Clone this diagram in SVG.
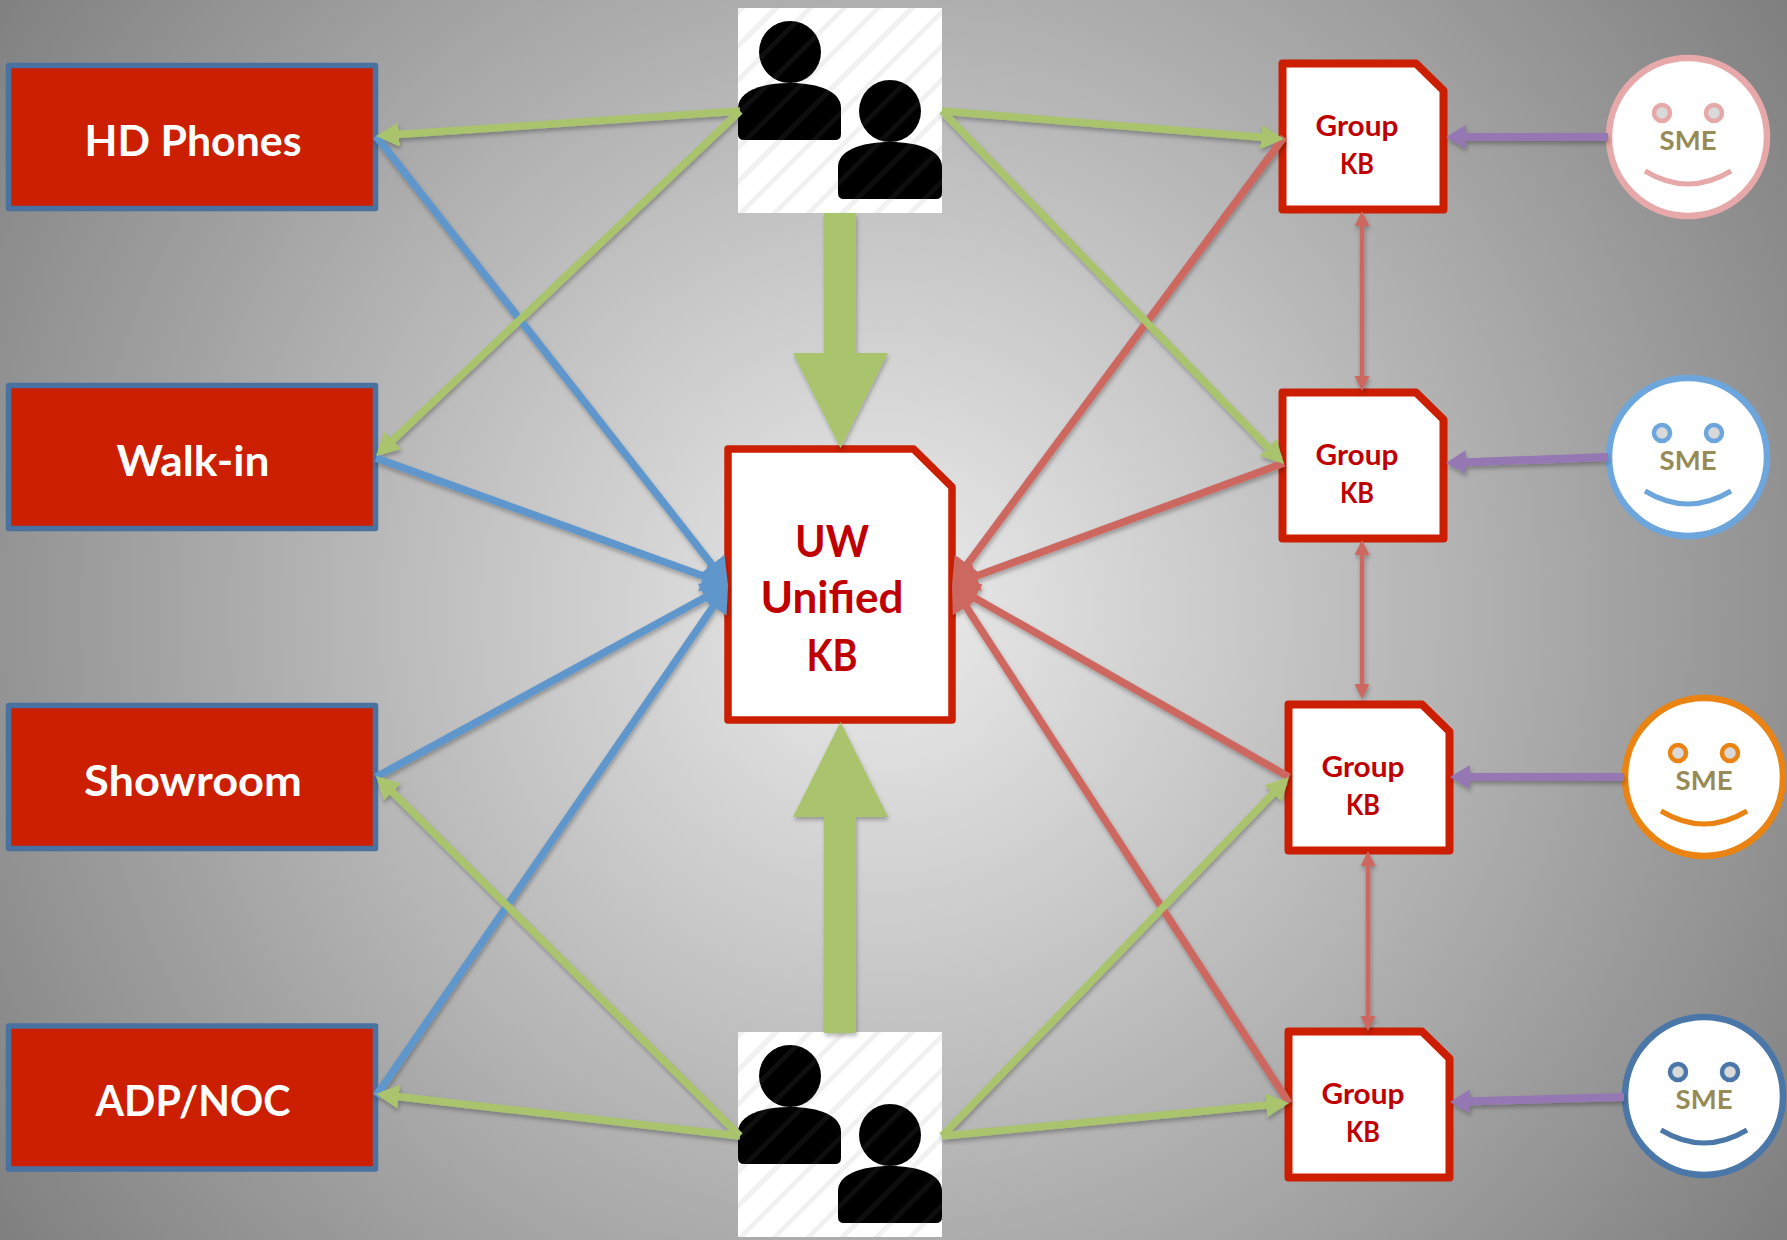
<svg xmlns="http://www.w3.org/2000/svg" width="1787" height="1240" viewBox="0 0 1787 1240">
<style>
text{font-family:"Lato","Liberation Sans",sans-serif;font-weight:700;text-anchor:middle}
.box rect{fill:#cc1e00;stroke:#4a72a0;stroke-width:5.5;stroke-linejoin:round}
.box text{fill:#fff;font-size:42px}
.doc{fill:#fff;stroke:#cc1e00;stroke-width:7.5;stroke-linejoin:round}
.kb .doc{stroke-width:8}
.kb text{fill:#c00000;font-size:28px}
.uw text{fill:#c00000;font-size:43px}
.sme circle.f{fill:#fff;stroke-width:6.5}
.sme circle.e{fill:#d9d9d9;stroke-width:4.5}
.sme path{fill:none;stroke-width:5}
.sme text{fill:#968a55;font-size:27.5px}
.g{stroke:#a9c46c;stroke-width:7.5;fill:none;marker-end:url(#mg)}
.b{stroke:#5e96cc;stroke-width:7.5;fill:none;marker-end:url(#mb)}
.r{stroke:#cd6760;stroke-width:7.5;fill:none;marker-end:url(#mr)}
.d{stroke:#cd6760;stroke-width:4.5;fill:none;marker-end:url(#md);marker-start:url(#md)}
.p{stroke:#9577b3;stroke-width:8;fill:none;marker-end:url(#mp)}
</style>
<defs>
<radialGradient id="bg" gradientUnits="userSpaceOnUse" cx="885" cy="610" r="1090">
<stop offset="0" stop-color="#ececec"/><stop offset="1" stop-color="#7f7f7f"/>
</radialGradient>
<pattern id="hatch" patternUnits="userSpaceOnUse" width="24" height="24" patternTransform="rotate(45)">
<rect x="0" y="0" width="5" height="24" fill="#808080" fill-opacity="0.11"/>
</pattern>
<filter id="sh" x="-5%" y="-5%" width="110%" height="110%">
<feDropShadow dx="1" dy="3" stdDeviation="2" flood-color="#000" flood-opacity="0.28"/>
</filter>
<marker id="mg" markerUnits="userSpaceOnUse" markerWidth="26" markerHeight="26" refX="17" refY="12" orient="auto"><path d="M0,0L23,12L0,24Z" fill="#a9c46c"/></marker>
<marker id="mb" markerUnits="userSpaceOnUse" markerWidth="28" markerHeight="34" refX="18" refY="16" orient="auto"><path d="M0,0L26,16L0,32Z" fill="#5e96cc"/></marker>
<marker id="mr" markerUnits="userSpaceOnUse" markerWidth="28" markerHeight="34" refX="18" refY="16" orient="auto"><path d="M0,0L26,16L0,32Z" fill="#cd6760"/></marker>
<marker id="md" markerUnits="userSpaceOnUse" markerWidth="17" markerHeight="17" refX="10" refY="7.5" orient="auto-start-reverse"><path d="M0,0L15,7.5L0,15Z" fill="#cd6760"/></marker>
<marker id="mp" markerUnits="userSpaceOnUse" markerWidth="22" markerHeight="26" refX="13" refY="12" orient="auto"><path d="M0,0L20,12L0,24Z" fill="#9577b3"/></marker>
<g id="people">
<rect x="738" y="8" width="204" height="205" fill="#fff"/>
<circle cx="790" cy="52" r="31" fill="#000"/>
<path d="M738,128V108C738,92 760,83 790,83C820,83 841,92 841,108V134Q841,140 835,140H744Q738,140 738,134Z" fill="#000"/>
<circle cx="890" cy="111" r="31" fill="#000"/>
<path d="M838,187V167C838,151 860,142 890,142C920,142 942,151 942,167V193Q942,199 936,199H844Q838,199 838,193Z" fill="#000"/>
<rect x="738" y="8" width="204" height="205" fill="url(#hatch)"/>
</g>
<path id="kb" d="M0,0H133.5L161,27V146H0Z"/>
</defs>
<rect id="background" width="1787" height="1240" fill="url(#bg)"/>

<g id="node-hd" class="box"><rect x="8.5" y="65.5" width="367" height="143"/><text x="193" y="156" textLength="217" lengthAdjust="spacingAndGlyphs">HD Phones</text></g>
<g id="node-walkin" class="box"><rect x="8.5" y="385.5" width="367" height="143"/><text x="193" y="476" textLength="153" lengthAdjust="spacingAndGlyphs">Walk-in</text></g>
<g id="node-showroom" class="box"><rect x="8.5" y="705.5" width="367" height="143"/><text x="193" y="796" textLength="218" lengthAdjust="spacingAndGlyphs">Showroom</text></g>
<g id="node-adp" class="box"><rect x="8.5" y="1026" width="367" height="143"/><text x="193" y="1116" textLength="195" lengthAdjust="spacingAndGlyphs">ADP/NOC</text></g>

<g id="node-people-top"><use href="#people"/></g>
<g id="node-people-bottom"><use href="#people" transform="translate(0,1024)"/></g>

<g id="node-uw" class="uw">
<path class="doc" d="M728,449H913.5L952,487V720H728Z"/>
<text x="832" y="557" textLength="74" lengthAdjust="spacingAndGlyphs">UW</text><text x="832" y="613" textLength="143" lengthAdjust="spacingAndGlyphs">Unified</text><text x="832" y="671" textLength="51" lengthAdjust="spacingAndGlyphs">KB</text>
</g>

<g id="node-kb1" class="kb" transform="translate(1282.5,63.5)"><use href="#kb" class="doc"/><text x="74.5" y="72.5" textLength="83" lengthAdjust="spacingAndGlyphs">Group</text><text x="74.5" y="110.5" textLength="34" lengthAdjust="spacingAndGlyphs">KB</text></g>
<g id="node-kb2" class="kb" transform="translate(1282.5,392.5)"><use href="#kb" class="doc"/><text x="74.5" y="72.5" textLength="83" lengthAdjust="spacingAndGlyphs">Group</text><text x="74.5" y="110.5" textLength="34" lengthAdjust="spacingAndGlyphs">KB</text></g>
<g id="node-kb3" class="kb" transform="translate(1288.5,704.5)"><use href="#kb" class="doc"/><text x="74.5" y="72.5" textLength="83" lengthAdjust="spacingAndGlyphs">Group</text><text x="74.5" y="110.5" textLength="34" lengthAdjust="spacingAndGlyphs">KB</text></g>
<g id="node-kb4" class="kb" transform="translate(1288.5,1031.5)"><use href="#kb" class="doc"/><text x="74.5" y="72.5" textLength="83" lengthAdjust="spacingAndGlyphs">Group</text><text x="74.5" y="110.5" textLength="34" lengthAdjust="spacingAndGlyphs">KB</text></g>

<g id="node-sme1" class="sme" transform="translate(1688,137)" stroke="#e6a8a8"><circle class="f" r="79"/><circle class="e" cx="-26" cy="-24" r="8"/><circle class="e" cx="26" cy="-24" r="8"/><path d="M-43,34Q0,60 43,34"/><text y="13" stroke="none">SME</text></g>
<g id="node-sme2" class="sme" transform="translate(1688,457)" stroke="#6ca6dd"><circle class="f" r="79"/><circle class="e" cx="-26" cy="-24" r="8"/><circle class="e" cx="26" cy="-24" r="8"/><path d="M-43,34Q0,60 43,34"/><text y="13" stroke="none">SME</text></g>
<g id="node-sme3" class="sme" transform="translate(1704,777)" stroke="#ea8311"><circle class="f" r="79"/><circle class="e" cx="-26" cy="-24" r="8"/><circle class="e" cx="26" cy="-24" r="8"/><path d="M-43,34Q0,60 43,34"/><text y="13" stroke="none">SME</text></g>
<g id="node-sme4" class="sme" transform="translate(1704,1096)" stroke="#4a77a8"><circle class="f" r="79"/><circle class="e" cx="-26" cy="-24" r="8"/><circle class="e" cx="26" cy="-24" r="8"/><path d="M-43,34Q0,60 43,34"/><text y="13" stroke="none">SME</text></g>

<g id="connectors" filter="url(#sh)">
<path class="b" d="M376,136L723,578.7"/>
<path class="b" d="M376,458L720.5,582.3"/>
<path class="b" d="M376,777L721,588.8"/>
<path class="b" d="M376,1096L723.5,591.6"/>
<path class="r" d="M1284,137L956.8,578.6"/>
<path class="r" d="M1284,463L959.5,582.2"/>
<path class="r" d="M1289,777L959,589"/>
<path class="r" d="M1289,1103L956.4,591.7"/>
<path class="g" d="M740,111L382,135.6"/>
<path class="g" d="M740,111L380.4,451.9"/>
<path class="g" d="M942,111L1278,138.5"/>
<path class="g" d="M942,111L1279.8,459.7"/>
<path class="g" d="M740,1136L382,1094.7"/>
<path class="g" d="M740,1136L380.3,780.2"/>
<path class="g" d="M942,1136L1283,1103.6"/>
<path class="g" d="M942,1136L1284.8,781.3"/>
<path class="d" d="M1362,216V386"/>
<path class="d" d="M1362,545V694"/>
<path class="d" d="M1368,856V1026"/>
<path class="p" d="M1608,137H1453"/>
<path class="p" d="M1608,457L1453,462.7"/>
<path class="p" d="M1624,777H1457"/>
<path class="p" d="M1624,1097L1457,1101.7"/>
<polygon id="big-top" points="824,213 856,213 856,353 888,353 840.5,448 793,353 824,353" fill="#a9c46c"/>
<polygon id="big-bottom" points="824,1033 856,1033 856,817 888,817 840.5,722 793,817 824,817" fill="#a9c46c"/>
</g>
</svg>
